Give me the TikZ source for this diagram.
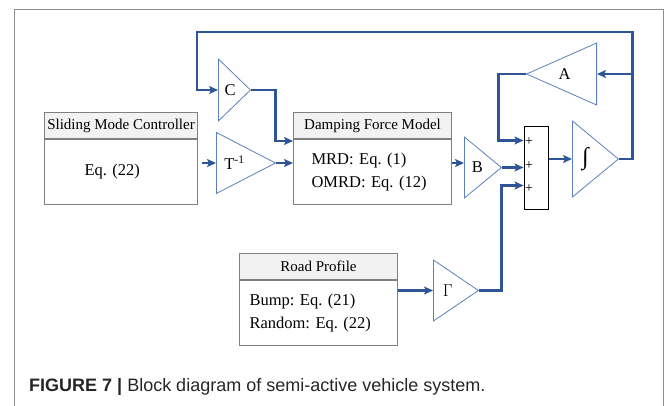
\documentclass[tikz,border=0pt]{standalone}
\usepackage{fontspec}
\setmainfont{Liberation Serif}
\newfontfamily\capfont{Liberation Sans}
\usetikzlibrary{shapes.geometric,arrows.meta,positioning,calc}
\frenchspacing

\definecolor{sigblue}{HTML}{2F5597}
\definecolor{triblue}{HTML}{5B80BD}
\definecolor{boxgray}{HTML}{808080}
\definecolor{hdrgray}{HTML}{F2F2F2}
\definecolor{framegray}{HTML}{8C8C8C}

\begin{document}
\begin{tikzpicture}[
    x=1pt, y=-1pt,
    hdr/.style={rectangle, draw=boxgray, fill=hdrgray, line width=1pt, minimum height=26pt, inner sep=0pt, anchor=north west, font=\fontsize{15}{17}\selectfont},
    body/.style={rectangle, draw=boxgray, line width=1pt, minimum height=65pt, inner ysep=0pt, align=left, font=\fontsize{16.5}{23}\selectfont},
    gain/.style={isosceles triangle, isosceles triangle stretches, draw=triblue, line width=0.8pt, inner sep=0pt, anchor=west, font=\fontsize{16.5}{18}\selectfont},
    sig/.style={-{Stealth[length=9pt,width=8pt,inset=2pt]}, draw=sigblue, line width=2.4pt},
    plus/.style={inner sep=0pt, font=\fontsize{14}{14}\selectfont}
]
    \useasboundingbox (0,0) rectangle (669,406);
    \draw[framegray, line width=1pt] (14,406) -- (14,9.5) -- (663,9.5) -- (663,406);

    % blocks with a title bar
    \node[hdr, minimum width=153pt] (smch) at (44,112) {Sliding Mode Controller};
    \node[body, below=0pt of smch, text width=73pt, inner xsep=40pt] (smc) {Eq. (22)};
    \node[hdr, minimum width=158pt] (dfmh) at (293,112) {Damping Force Model};
    \node[body, below=0pt of dfmh, text width=122pt, inner xsep=18pt] (dfm) {MRD: Eq. (1)\\OMRD: Eq. (12)};
    \node[hdr, minimum width=158pt] (rph) at (239,253) {Road Profile};
    \node[body, below=0pt of rph, text width=138pt, inner xsep=10pt] (rp) {Bump: Eq. (21)\\Random: Eq. (22)};

    % gains (height = length along the axis, width = base)
    \node[gain, minimum height=59pt, minimum width=61pt] (T) at (216,163) {T\textsuperscript{-1}};
    \node[gain, minimum height=32pt, minimum width=62pt] (C) at (218,90) {C};
    \node[gain, minimum height=37pt, minimum width=61pt] (B) at (464,167.5) {B};
    \node[gain, minimum height=45pt, minimum width=61pt] (G) at (433,290.5) {$\Gamma$};
    \node[gain, minimum height=46pt, minimum width=76pt, font=\fontsize{24}{24}\selectfont] (int) at (572,159) {∫};
    \node[gain, shape border rotate=180, anchor=east, minimum height=70pt, minimum width=62pt] (A) at (597,74) {A\hspace*{18pt}};

    % summing junction
    \node[draw=black, line width=1pt, minimum width=24pt, minimum height=83pt, inner sep=0pt] (sum) at (536,168.5) {};
    \node[plus] (p1) at (529,142) {+};
    \node[plus] (p2) at (529,166) {+};
    \node[plus] (p3) at (529,189) {+};

    % signal paths
    \draw[sig, shorten <=4pt] (smc.east |- T.west) -- (T.west);
    \draw[sig] (T.east) -- (T.east -| dfm.west);
    \draw[sig] (C.east) -- ++(24,0) |- ([yshift=-2pt]dfm.north west);
    \draw[sig] (dfm.east |- T.east) -- (B.west |- T.east);
    \draw[sig] (B.east) -- (B.east -| sum.west);
    \draw[sig] (A.apex) -- ++(-27,0) |- ([yshift=-14pt]sum.north west);
    \draw[sig] (rp.east |- G.west) -- (G.west);
    \draw[sig] (G.apex) -- ++(22,0) |- ([yshift=25pt]sum.south west);
    \draw[sig] (sum.east |- int.west) -- (int.west);
    % state feedback
    \draw[sig] (int.apex) -- ++(13,0) coordinate (fb) |- ([xshift=-21pt,yshift=58pt]C.west) |- (C.west);
    \draw[sig] (A.east -| fb) -- (A.east);

    \node[anchor=base west, inner sep=0pt, text=black!85, font=\capfont\fontsize{18}{20}\selectfont] (caption) at (29,391) {\textbf{FIGURE 7 |} Block diagram of semi-active vehicle system.};
\end{tikzpicture}
\end{document}
